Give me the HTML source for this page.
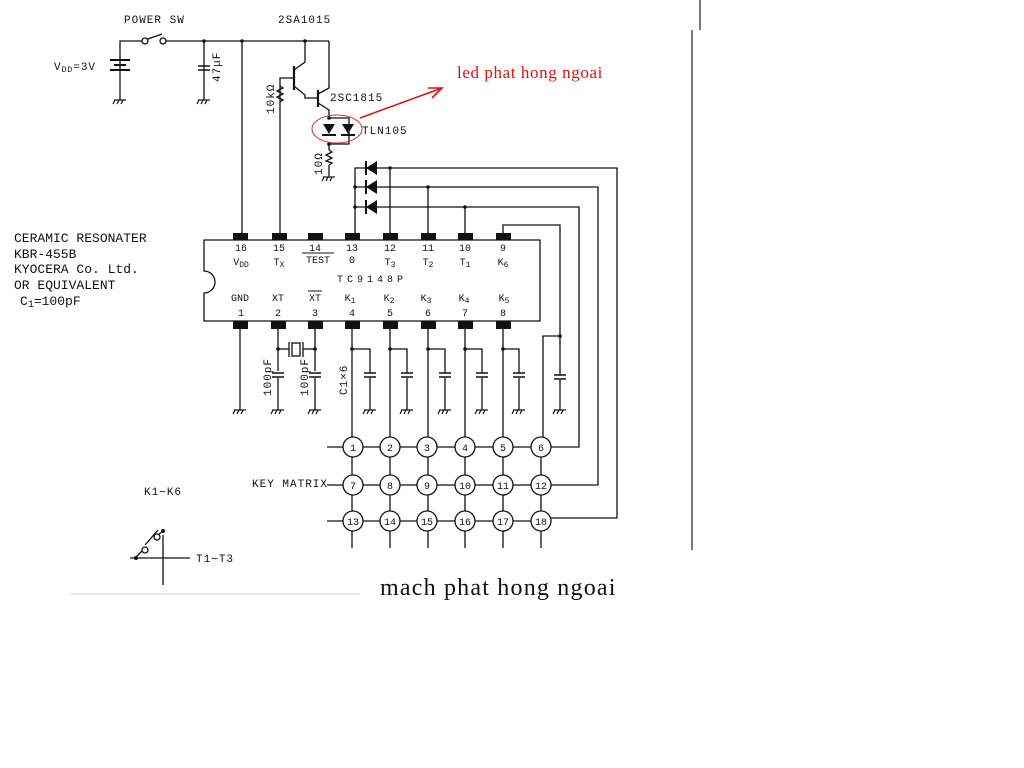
<!DOCTYPE html>
<html><head><meta charset="utf-8"><style>
html,body{margin:0;padding:0;background:#fff;}
svg{display:block;}
text{font-family:"Liberation Mono",monospace;fill:#111;}
.s{font-family:"Liberation Serif",serif;}
</style></head><body>
<svg width="1024" height="768" viewBox="0 0 1024 768" xmlns="http://www.w3.org/2000/svg">
<defs>
<g id="gnd" stroke="#111" stroke-width="1.2" fill="none"><line x1="-6" y1="0" x2="6" y2="0"/><line x1="-5" y1="0" x2="-7" y2="4"/><line x1="-1" y1="0" x2="-3" y2="4"/><line x1="3" y1="0" x2="1" y2="4"/></g>
<g id="cap" stroke="#111" stroke-width="1.5"><line x1="-6" y1="-2" x2="6" y2="-2"/><line x1="-6" y1="2" x2="6" y2="2"/></g>
<g id="dl" fill="#111"><polygon points="-6,0 5,-7 5,7"/><rect x="-7" y="-7" width="2" height="14"/></g>
</defs>
<g stroke="#111" stroke-width="1.3" fill="none">
<polyline points="120,100 120,41 142,41"/>
<line x1="145" y1="40" x2="162" y2="34"/>
<line x1="166" y1="41" x2="329" y2="41"/>
<line x1="204" y1="41" x2="204" y2="100"/>
<line x1="242" y1="41" x2="242" y2="235"/>
<line x1="110" y1="60" x2="130" y2="60" stroke-width="2"/>
<line x1="114" y1="65" x2="126" y2="65" stroke-width="2"/>
<line x1="110" y1="70" x2="130" y2="70" stroke-width="2"/>
<polyline points="305,41 305,62 294,70"/>
<line x1="294" y1="66" x2="294" y2="90" stroke-width="2.2"/>
<polyline points="280,235 280,78 294,78"/>
<polyline points="294,86 305,95 305,98 318,98"/>
<line x1="318" y1="90" x2="318" y2="107" stroke-width="2.2"/>
<polyline points="318,94 329,88 329,41"/>
<polyline points="318,103 329,110 329,118"/>
<polyline points="329,118 349,118 349,144 329,144 329,150"/>
<polyline points="329,165 329,177"/>
<polyline points="329,150 332,152 326,155 332,158 326,161 332,163 329,165"/>
<polyline points="280,86 283,88 277,91 283,94 277,97 283,100 280,102"/>
<polyline points="355,233 355,168 617,168 617,518 541,518"/>
<polyline points="355,187 598,187 598,485 541,485"/>
<polyline points="355,207 579,207 579,447 541,447"/>
<line x1="390" y1="168" x2="390" y2="235"/>
<line x1="428" y1="187" x2="428" y2="235"/>
<line x1="465" y1="207" x2="465" y2="235"/>
<polyline points="503,235 503,225 560,225 560,375"/>
<line x1="560" y1="380" x2="560" y2="410"/>
<polyline points="560,336 543,336 543,437"/>
<path d="M204,240 H540 V321 H204 V293 A10,10 0 0 0 204,271 Z"/>
<line x1="240" y1="329" x2="240" y2="410"/>
<line x1="278" y1="329" x2="278" y2="371"/><line x1="278" y1="378" x2="278" y2="410"/>
<line x1="315" y1="329" x2="315" y2="371"/><line x1="315" y1="378" x2="315" y2="410"/>
<line x1="278" y1="349" x2="289" y2="349"/><line x1="303" y1="349" x2="315" y2="349"/>
<rect x="292" y="343" width="8" height="13"/>
<line x1="289" y1="342" x2="289" y2="357"/><line x1="303" y1="342" x2="303" y2="357"/>
<line x1="352" y1="329" x2="352" y2="548"/>
<line x1="390" y1="329" x2="390" y2="548"/>
<line x1="428" y1="329" x2="428" y2="548"/>
<line x1="465" y1="329" x2="465" y2="548"/>
<line x1="503" y1="329" x2="503" y2="548"/>
<line x1="541" y1="447" x2="541" y2="548"/>
<polyline points="352,349 370,349 370,373"/><line x1="370" y1="378" x2="370" y2="410"/>
<polyline points="390,349 407,349 407,373"/><line x1="407" y1="378" x2="407" y2="410"/>
<polyline points="428,349 445,349 445,373"/><line x1="445" y1="378" x2="445" y2="410"/>
<polyline points="465,349 482,349 482,373"/><line x1="482" y1="378" x2="482" y2="410"/>
<polyline points="503,349 519,349 519,373"/><line x1="519" y1="378" x2="519" y2="410"/>
<line x1="327" y1="447" x2="541" y2="447"/>
<line x1="327" y1="485" x2="541" y2="485"/>
<line x1="327" y1="521" x2="541" y2="521"/>
<line x1="130" y1="558" x2="190" y2="558"/>
<line x1="163" y1="535" x2="163" y2="585"/>
<line x1="135" y1="558" x2="143" y2="550"/>
<line x1="145" y1="545" x2="158" y2="530"/>
<line x1="158" y1="535" x2="163" y2="531"/>
<line x1="700" y1="0" x2="700" y2="30" stroke="#333"/>
<line x1="692" y1="30" x2="692" y2="550" stroke="#333"/>
<line x1="70" y1="594" x2="360" y2="594" stroke="#ccd" stroke-width="1"/>
</g>
<g stroke="#111" stroke-width="1.3" fill="#fff">
<circle cx="145" cy="41" r="3"/><circle cx="163" cy="41" r="3"/>
<circle cx="145" cy="550" r="3"/><circle cx="157" cy="537" r="3"/>
<circle cx="353" cy="447" r="10"/><circle cx="390" cy="447" r="10"/><circle cx="427" cy="447" r="10"/><circle cx="465" cy="447" r="10"/><circle cx="503" cy="447" r="10"/><circle cx="541" cy="447" r="10"/>
<circle cx="353" cy="485" r="10"/><circle cx="390" cy="485" r="10"/><circle cx="427" cy="485" r="10"/><circle cx="465" cy="485" r="10"/><circle cx="503" cy="485" r="10"/><circle cx="541" cy="485" r="10"/>
<circle cx="353" cy="521" r="10"/><circle cx="390" cy="521" r="10"/><circle cx="427" cy="521" r="10"/><circle cx="465" cy="521" r="10"/><circle cx="503" cy="521" r="10"/><circle cx="541" cy="521" r="10"/>
</g>
<g font-size="10" text-anchor="middle">
<text x="353" y="451">1</text><text x="390" y="451">2</text><text x="427" y="451">3</text><text x="465" y="451">4</text><text x="503" y="451">5</text><text x="541" y="451">6</text>
<text x="353" y="489">7</text><text x="390" y="489">8</text><text x="427" y="489">9</text><text x="465" y="489">10</text><text x="503" y="489">11</text><text x="541" y="489">12</text>
<text x="353" y="525">13</text><text x="390" y="525">14</text><text x="427" y="525">15</text><text x="465" y="525">16</text><text x="503" y="525">17</text><text x="541" y="525">18</text>
</g>
<g fill="#111">
<rect x="233" y="233" width="15" height="7"/><rect x="272" y="233" width="15" height="7"/><rect x="308" y="233" width="15" height="7"/><rect x="345" y="233" width="15" height="7"/><rect x="383" y="233" width="15" height="7"/><rect x="421" y="233" width="15" height="7"/><rect x="458" y="233" width="15" height="7"/><rect x="496" y="233" width="15" height="7"/>
<rect x="233" y="321" width="15" height="8"/><rect x="271" y="321" width="15" height="8"/><rect x="308" y="321" width="15" height="8"/><rect x="345" y="321" width="15" height="8"/><rect x="383" y="321" width="15" height="8"/><rect x="421" y="321" width="15" height="8"/><rect x="458" y="321" width="15" height="8"/><rect x="496" y="321" width="15" height="8"/>
<circle cx="204" cy="41" r="1.8"/><circle cx="242" cy="41" r="1.8"/><circle cx="305" cy="41" r="1.8"/>
<circle cx="355" cy="187" r="1.8"/><circle cx="355" cy="207" r="1.8"/><circle cx="390" cy="168" r="1.8"/><circle cx="428" cy="187" r="1.8"/><circle cx="465" cy="207" r="1.8"/>
<circle cx="278" cy="349" r="1.8"/><circle cx="315" cy="349" r="1.8"/><circle cx="352" cy="349" r="1.8"/><circle cx="390" cy="349" r="1.8"/><circle cx="428" cy="349" r="1.8"/><circle cx="465" cy="349" r="1.8"/><circle cx="503" cy="349" r="1.8"/><circle cx="560" cy="336" r="1.8"/>
<circle cx="136" cy="558" r="2"/><circle cx="163" cy="531" r="2"/><circle cx="329" cy="118" r="1.8"/><circle cx="329" cy="144" r="1.8"/>
<use href="#dl" x="372" y="168"/><use href="#dl" x="372" y="187"/><use href="#dl" x="372" y="207"/>
<polygon points="323,124 335,124 329,134"/><rect x="322" y="134" width="14" height="2"/>
<polygon points="342,124 354,124 348,134"/><rect x="341" y="134" width="14" height="2"/>
</g>
<use href="#cap" x="204" y="68"/>
<use href="#cap" x="278" y="375"/><use href="#cap" x="315" y="375"/>
<use href="#cap" x="370" y="375"/><use href="#cap" x="407" y="375"/><use href="#cap" x="445" y="375"/><use href="#cap" x="482" y="375"/><use href="#cap" x="519" y="375"/><use href="#cap" x="560" y="377"/>
<use href="#gnd" x="120" y="100"/><use href="#gnd" x="204" y="100"/><use href="#gnd" x="329" y="177"/>
<use href="#gnd" x="240" y="410"/><use href="#gnd" x="278" y="410"/><use href="#gnd" x="315" y="410"/><use href="#gnd" x="370" y="410"/><use href="#gnd" x="407" y="410"/><use href="#gnd" x="445" y="410"/><use href="#gnd" x="482" y="410"/><use href="#gnd" x="519" y="410"/><use href="#gnd" x="560" y="410"/>
<ellipse cx="337" cy="129" rx="25" ry="14" fill="none" stroke="#d33" stroke-width="1"/>
<g stroke="#e01010" stroke-width="1.6" fill="none"><line x1="360" y1="118" x2="442" y2="88"/><polyline points="428,88 442,88 432,98"/></g>
<text class="s" x="457" y="78" font-size="17" letter-spacing="0.6" style="fill:#e01010">led phat hong ngoai</text>
<g font-size="11" letter-spacing="1">
<text x="124" y="23">POWER SW</text>
<text x="278" y="23">2SA1015</text>
<text x="54" y="70">V<tspan font-size="8" dy="2">DD</tspan><tspan dy="-2">=3V</tspan></text>
<text x="330" y="101">2SC1815</text>
<text x="362" y="134">TLN105</text>
<text transform="translate(220,82) rotate(-90)">47μF</text>
<text transform="translate(274,114) rotate(-90)">10kΩ</text>
<text transform="translate(322,175) rotate(-90)">10Ω</text>
<text transform="translate(271,396) rotate(-90)">100pF</text>
<text transform="translate(308,396) rotate(-90)">100pF</text>
<text transform="translate(347,395) rotate(-90)">C1×6</text>
<text x="252" y="487">KEY MATRIX</text>
<text x="144" y="495">K1∼K6</text>
<text x="196" y="562">T1∼T3</text>
</g>
<g font-size="10" text-anchor="middle">
<text x="241" y="251">16</text><text x="279" y="251">15</text><text x="315" y="251">14</text><text x="352" y="251">13</text><text x="390" y="251">12</text><text x="428" y="251">11</text><text x="465" y="251">10</text><text x="503" y="251">9</text>
<text x="241" y="265">V<tspan font-size="8" dy="2">DD</tspan></text><text x="279" y="265">T<tspan font-size="8" dy="2">X</tspan></text><text x="318" y="263">TEST</text><text x="352" y="263">0</text><text x="390" y="265">T<tspan font-size="8" dy="2">3</tspan></text><text x="428" y="265">T<tspan font-size="8" dy="2">2</tspan></text><text x="465" y="265">T<tspan font-size="8" dy="2">1</tspan></text><text x="503" y="265">K<tspan font-size="8" dy="2">6</tspan></text>
<text x="372" y="282" letter-spacing="4">TC9148P</text>
<text x="240" y="301">GND</text><text x="278" y="301">XT</text><text x="315" y="301">XT</text><text x="350" y="301">K<tspan font-size="8" dy="2">1</tspan></text><text x="389" y="301">K<tspan font-size="8" dy="2">2</tspan></text><text x="426" y="301">K<tspan font-size="8" dy="2">3</tspan></text><text x="464" y="301">K<tspan font-size="8" dy="2">4</tspan></text><text x="504" y="301">K<tspan font-size="8" dy="2">5</tspan></text>
<text x="241" y="316">1</text><text x="278" y="316">2</text><text x="315" y="316">3</text><text x="352" y="316">4</text><text x="390" y="316">5</text><text x="428" y="316">6</text><text x="465" y="316">7</text><text x="503" y="316">8</text>
</g>
<line x1="302" y1="253" x2="334" y2="253" stroke="#111"/><line x1="308" y1="291" x2="322" y2="291" stroke="#111"/>
<g font-size="13">
<text x="14" y="242">CERAMIC RESONATER</text>
<text x="14" y="258">KBR-455B</text>
<text x="14" y="273">KYOCERA Co. Ltd.</text>
<text x="14" y="289">OR EQUIVALENT</text>
<text x="20" y="305">C<tspan font-size="10" dy="2">1</tspan><tspan dy="-2">=100pF</tspan></text>
</g>
<text class="s" x="380" y="595" font-size="24" letter-spacing="1.2">mach phat hong ngoai</text>
</svg>
</body></html>
